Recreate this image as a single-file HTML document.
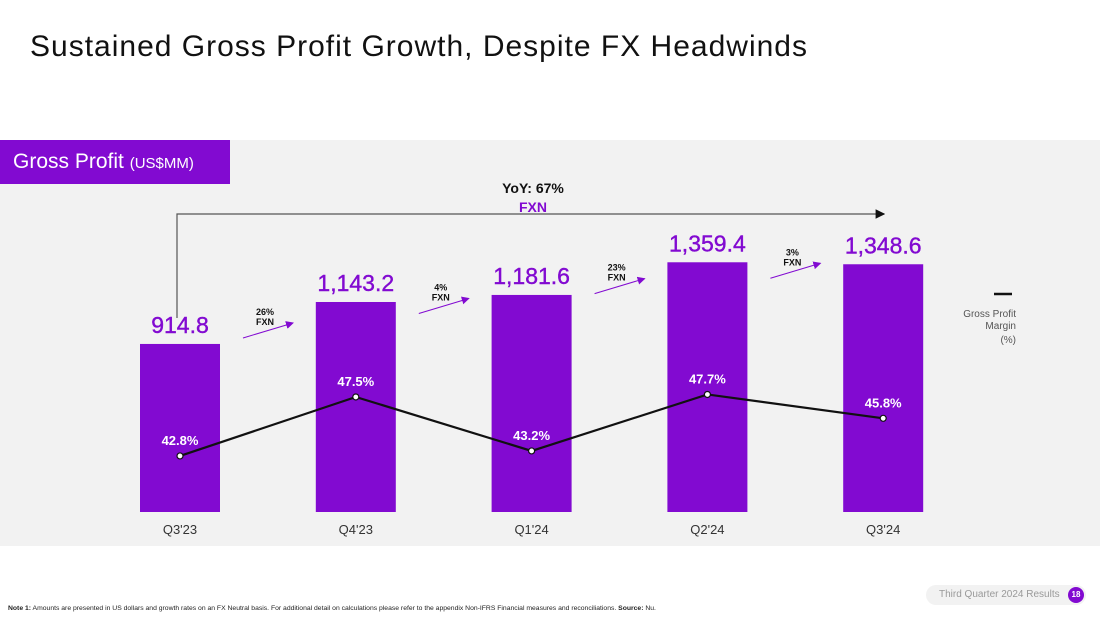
<!DOCTYPE html>
<html><head><meta charset="utf-8"><style>
body{margin:0;width:1100px;height:619px;background:#fff;font-family:"Liberation Sans",sans-serif;overflow:hidden;position:relative}
</style></head><body>
<div style="position:absolute;left:30px;top:30px;font-size:30px;letter-spacing:1px;color:#111">Sustained Gross Profit Growth, Despite FX Headwinds</div>
<div style="position:absolute;left:0;top:140px;width:1100px;height:406px;background:#f2f2f2"></div>
<div style="position:absolute;left:0;top:140px;width:230px;height:44px;background:#820ad1;color:#fff;font-size:21px;line-height:44px;padding-left:13px;box-sizing:border-box">Gross Profit <span style="font-size:15px">(US$MM)</span></div>
<svg id="chart" width="1100" height="619" style="position:absolute;left:0;top:0">
<defs><marker id="ah" markerWidth="8" markerHeight="8" refX="7" refY="4" orient="auto"><path d="M0,0L8,4L0,8z" fill="#820ad1"/></marker>
<marker id="ak" markerWidth="8" markerHeight="8" refX="7" refY="4" orient="auto"><path d="M0,0L8,4L0,8z" fill="#111"/></marker></defs>
<path d="M177,318V214H884" fill="none" stroke="#555" stroke-width="1.2" marker-end="url(#ak)"/>
<text x="533" y="193" text-anchor="middle" font-size="14" font-weight="bold" fill="#111">YoY: 67%</text>
<text x="533" y="212" text-anchor="middle" font-size="14" font-weight="bold" fill="#820ad1">FXN</text>
<g id="bars"></g><g id="line"></g>
<line x1="994" y1="294" x2="1012" y2="294" stroke="#111" stroke-width="2.5"/>
<text font-size="10" fill="#555" text-anchor="end"><tspan x="1016" y="317">Gross Profit</tspan><tspan x="1016" y="329">Margin</tspan><tspan x="1016" y="343">(%)</tspan></text>
</svg>
<div style="position:absolute;left:926px;top:585px;width:160px;height:20px;background:#f2f2f2;border-radius:10px;font-size:10px;color:#999;line-height:20px;padding-left:13px;box-sizing:border-box">Third Quarter 2024 Results</div>
<div style="position:absolute;left:1068px;top:587px;width:16px;height:16px;border-radius:8px;background:#820ad1;color:#fff;font-size:8px;font-weight:bold;text-align:center;line-height:16px">18</div>
<div style="position:absolute;left:8px;top:605px;font-size:6.8px;color:#222;white-space:nowrap"><b>Note 1:</b> Amounts are presented in US dollars and growth rates on an FX Neutral basis. For additional detail on calculations please refer to the appendix Non-IFRS Financial measures and reconciliations. <b>Source:</b> Nu.</div>
<script>
const categories=["Q3'23","Q4'23","Q1'24","Q2'24","Q3'24"];
const grossProfit=[914.8,1143.2,1181.6,1359.4,1348.6];
const margins=[42.8,47.5,43.2,47.7,45.8];
const growthLabels=["26%","4%","23%","3%"];
const NS="http://www.w3.org/2000/svg";
const xc=i=>180+i*175.8;
const yv=v=>512-v*0.1837;
const ym=m=>993.1-12.55*m;
const bars=document.getElementById('bars'),line=document.getElementById('line');
function mk(tag,attrs,parent,txt){const e=document.createElementNS(NS,tag);for(const k in attrs)e.setAttribute(k,attrs[k]);if(txt!=null)e.textContent=txt;parent.appendChild(e);return e;}
categories.forEach((c,i)=>{
 const r=mk('rect',{x:xc(i)-40,y:yv(grossProfit[i]),width:80,height:512-yv(grossProfit[i]),fill:'#820ad1'},bars);
 
 
 const t=mk('text',{x:xc(i),y:yv(grossProfit[i])-11,'text-anchor':'middle','font-size':23,fill:'#820ad1',stroke:'#820ad1','stroke-width':0.4},bars,grossProfit[i].toLocaleString('en-US',{minimumFractionDigits:1}));
 
 
 const xl=mk('text',{x:xc(i),y:534,'text-anchor':'middle','font-size':13,fill:'#333'},bars,c);
 
 
});
growthLabels.forEach((g,i)=>{
 const x=xc(i)+88,y=(yv(grossProfit[i])+yv(grossProfit[i+1]))/2;
 const a=mk('line',{x1:x-25,y1:y+15,x2:x+25,y2:y,stroke:'#820ad1','stroke-width':1,'marker-end':'url(#ah)'},bars);
 
 
 const t=mk('text',{'font-size':9,'font-weight':'bold',fill:'#111','text-anchor':'middle'},bars);
 
 
 mk('tspan',{x:x-3,y:y-8},t,g);mk('tspan',{x:x-3,y:y+2},t,'FXN');
});
const pts=margins.map((m,i)=>xc(i)+','+ym(m)).join(' ');
const pl=mk('polyline',{points:pts,fill:'none',stroke:'#111','stroke-width':2.2},line);


margins.forEach((m,i)=>{
 const c=mk('circle',{cx:xc(i),cy:ym(m),r:3,fill:'#fff',stroke:'#111','stroke-width':1.2},line);
 
 
 const t=mk('text',{x:xc(i),y:ym(m)-11,'text-anchor':'middle','font-size':13,'font-weight':'bold',fill:'#fff'},line,m.toFixed(1)+'%');
 
 
});
</script>
</body></html>
